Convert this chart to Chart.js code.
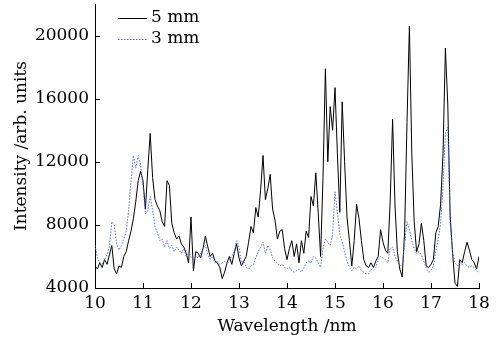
<!DOCTYPE html>
<html>
<head>
<meta charset="utf-8">
<script src="https://cdn.jsdelivr.net/npm/chart.js@4"></script>
<style>
  html, body { margin: 0; padding: 0; background: #fff; }
  #spectrum-chart { display: block; }
</style>
</head>
<body>
<canvas id="spectrum-chart" width="504" height="337"></canvas>
<script>
// wavelength grid, 10.00 .. 18.00 nm every 0.05 nm
const wavelengths = [
    10.00, 10.05, 10.10, 10.15, 10.20, 10.25, 10.30, 10.35, 10.40, 10.45,
    10.50, 10.55, 10.60, 10.65, 10.70, 10.75, 10.80, 10.85, 10.90, 10.95,
    11.00, 11.05, 11.10, 11.15, 11.20, 11.25, 11.30, 11.35, 11.40, 11.45,
    11.50, 11.55, 11.60, 11.65, 11.70, 11.75, 11.80, 11.85, 11.90, 11.95,
    12.00, 12.05, 12.10, 12.15, 12.20, 12.25, 12.30, 12.35, 12.40, 12.45,
    12.50, 12.55, 12.60, 12.65, 12.70, 12.75, 12.80, 12.85, 12.90, 12.95,
    13.00, 13.05, 13.10, 13.15, 13.20, 13.25, 13.30, 13.35, 13.40, 13.45,
    13.50, 13.55, 13.60, 13.65, 13.70, 13.75, 13.80, 13.85, 13.90, 13.95,
    14.00, 14.05, 14.10, 14.15, 14.20, 14.25, 14.30, 14.35, 14.40, 14.45,
    14.50, 14.55, 14.60, 14.65, 14.70, 14.75, 14.80, 14.85, 14.90, 14.95,
    15.00, 15.05, 15.10, 15.15, 15.20, 15.25, 15.30, 15.35, 15.40, 15.45,
    15.50, 15.55, 15.60, 15.65, 15.70, 15.75, 15.80, 15.85, 15.90, 15.95,
    16.00, 16.05, 16.10, 16.15, 16.20, 16.25, 16.30, 16.35, 16.40, 16.45,
    16.50, 16.55, 16.60, 16.65, 16.70, 16.75, 16.80, 16.85, 16.90, 16.95,
    17.00, 17.05, 17.10, 17.15, 17.20, 17.25, 17.30, 17.35, 17.40, 17.45,
    17.50, 17.55, 17.60, 17.65, 17.70, 17.75, 17.80, 17.85, 17.90, 17.95,
    18.00
];

// 5 mm
const intensity5mm = [
    5400, 5200, 5600, 5300, 5800, 5500, 6100, 6700, 5200, 4900,
    5400, 5300, 6000, 6300, 7000, 7600, 8400, 9500, 10800, 11400,
    10800, 9000, 11500, 13800, 11000, 9600, 9200, 8900, 8200, 7900,
    10800, 10500, 8100, 7500, 7100, 7300, 6800, 6600, 6200, 5600,
    8500, 5100, 6300, 6200, 5900, 6500, 7300, 6600, 6000, 6200,
    5700, 5600, 5300, 4600, 5000, 5600, 6000, 5500, 6200, 6800,
    5900, 5400, 5700, 6000, 6900, 7900, 7500, 9100, 8500, 10200,
    12400, 9600, 10300, 11200, 9000, 8300, 7100, 7600, 7700, 6500,
    5800, 6500, 7000, 6000, 6800, 5600, 7000, 6200, 7600, 7200,
    9800, 9200, 11300, 8800, 6000, 11000, 17900, 12000, 15500, 14000,
    16700, 12500, 8800, 15800, 12000, 8500, 7000, 5400, 7000, 9300,
    8400, 7000, 5800, 5400, 5300, 5600, 5300, 5700, 6000, 7700,
    6900, 6400, 6200, 9500, 14700, 9200, 6300, 5200, 4700, 7500,
    14500, 20600, 12500, 8200, 6300, 6800, 8100, 7000, 5400, 5300,
    5500, 5800, 7500, 7900, 9300, 12500, 19200, 15600, 8500, 6200,
    4300, 4100, 5800, 5600, 6300, 6900, 6400, 5800, 5600, 5200,
    6000
];

// 3 mm
const intensity3mm = [
    6700, 5900, 5600, 5500, 5800, 6100, 6600, 8200, 8000, 6800,
    6400, 6700, 7100, 7600, 8900, 10800, 12400, 11600, 12400, 11800,
    10500, 8700, 8900, 9800, 8900, 7900, 7500, 7000, 7100, 6600,
    7000, 6500, 6700, 6300, 6600, 6400, 6200, 6500, 6000, 6300,
    6000, 5800, 6000, 5900, 6200, 6500, 6700, 6100, 5800, 6000,
    5600, 5700, 5500, 5600, 5700, 5500, 5800, 6000, 6300, 7000,
    6600, 5600, 5700, 5300, 5200, 5400, 5500, 5900, 6300, 6600,
    6900, 6200, 6700, 6400, 5900, 5700, 5600, 5400, 5500, 5300,
    5200, 5300, 5100, 5000, 5100, 5200, 5000, 5300, 5600, 5700,
    5600, 6000, 5900, 5600, 5300, 6500, 7100, 6900, 6700, 7400,
    10100, 8800, 7400, 6900, 6300, 5700, 5300, 5100, 5300, 5200,
    5400, 5100, 5000, 4900, 4900, 5200, 5100, 5300, 5800, 6000,
    5900, 5800, 5600, 6500, 6600, 6000, 5700, 5400, 5500, 6800,
    8200, 7700, 7000, 6500, 6200, 6300, 6100, 5700, 5300, 5000,
    5100, 5400, 6300, 7100, 8100, 10400, 13800, 14200, 8000, 6300,
    5600, 5400, 5600, 5500, 5600, 5400, 5300, 5400, 5300, 5100,
    5000
];

const seriesNames = ['5 mm', '3 mm'];
const xTicks = [10, 11, 12, 13, 14, 15, 16, 17, 18];
const yTicks = [4000, 8000, 12000, 16000, 20000];

const FONT = { family: '"DejaVu Serif", "Liberation Serif", serif', size: 17 };

function toPoints(ys) {
    return wavelengths.map((x, i) => ({ x: x, y: ys[i] }));
}

// tick marks pointing into the plot, like the original figure
const innerTicks = {
    id: 'innerTicks',
    afterDraw(chart) {
        const ctx = chart.ctx;
        const xs = chart.scales.x, ys = chart.scales.y;
        const area = chart.chartArea;
        ctx.save();
        ctx.strokeStyle = '#000';
        ctx.lineWidth = 1;
        ctx.beginPath();
        xTicks.forEach(v => {
            const px = Math.round(xs.getPixelForValue(v)) + 0.5;
            ctx.moveTo(px, area.bottom);
            ctx.lineTo(px, area.bottom - 5);
        });
        yTicks.forEach(v => {
            const py = Math.round(ys.getPixelForValue(v)) + 0.5;
            ctx.moveTo(area.left, py);
            ctx.lineTo(area.left + 5, py);
        });
        ctx.stroke();
        ctx.restore();
    }
};

// legend sits inside the plot, top left, one entry per row
const insideLegend = {
    id: 'insideLegend',
    afterDraw(chart) {
        const ctx = chart.ctx;
        const area = chart.chartArea;
        ctx.save();
        ctx.font = FONT.size + 'px ' + FONT.family;
        ctx.textBaseline = 'middle';
        ctx.fillStyle = '#000';
        chart.data.datasets.forEach((ds, i) => {
            const y = 18 + i * 21;
            const x0 = area.left + 23;
            ctx.strokeStyle = ds.borderColor;
            ctx.lineWidth = 1;
            ctx.setLineDash(ds.borderDash || []);
            ctx.beginPath();
            ctx.moveTo(x0, y + 0.5);
            ctx.lineTo(x0 + 29, y + 0.5);
            ctx.stroke();
            ctx.setLineDash([]);
            ctx.fillText(ds.label, x0 + 33, y);
        });
        ctx.restore();
    }
};

document.addEventListener("DOMContentLoaded", mainJs);

function mainJs() {
    const ctx = document.getElementById('spectrum-chart');

    new Chart(ctx, {
        type: 'line',
        data: {
            datasets: [{
                label: seriesNames[0],
                data: toPoints(intensity5mm),
                borderColor: '#000000',
                borderWidth: 1,
                pointRadius: 0,
                tension: 0,
                order: 2
            }, {
                label: seriesNames[1],
                data: toPoints(intensity3mm),
                borderColor: '#4a6fd8',
                borderWidth: 1,
                borderDash: [1.5, 1.5],
                pointRadius: 0,
                tension: 0,
                order: 1
            }]
        },
        options: {
            responsive: false,
            animation: false,
            devicePixelRatio: 1,
            layout: { padding: { left: 11, right: 25, top: 4, bottom: 0 } },
            plugins: {
                legend: { display: false },
                tooltip: { enabled: false }
            },
            scales: {
                x: {
                    type: 'linear',
                    min: 10,
                    max: 18,
                    afterBuildTicks: (scale) => { scale.ticks = xTicks.map(v => ({ value: v })); },
                    afterFit: (scale) => {
                        scale.height = 49;
                        scale.paddingLeft = 0;
                        scale.paddingRight = 0;
                    },
                    grid: { drawOnChartArea: false, drawTicks: false },
                    border: { display: true, color: '#000', width: 1 },
                    ticks: { color: '#000', font: FONT, padding: 5, maxRotation: 0, callback: (v) => String(v) },
                    title: { display: true, text: 'Wavelength /nm', color: '#000', font: FONT, padding: 0 }
                },
                y: {
                    type: 'linear',
                    min: 4000,
                    max: 22000,
                    afterBuildTicks: (scale) => { scale.ticks = yTicks.map(v => ({ value: v })); },
                    afterFit: (scale) => {
                        scale.width = 84;
                        scale.paddingTop = 0;
                        scale.paddingBottom = 0;
                    },
                    grid: { drawOnChartArea: false, drawTicks: false },
                    border: { display: true, color: '#000', width: 1 },
                    ticks: { color: '#000', font: FONT, padding: 6, callback: (v) => String(v) },
                    title: { display: true, text: 'Intensity /arb. units', color: '#000', font: FONT, padding: 0 }
                }
            }
        },
        plugins: [innerTicks, insideLegend]
    });
}
</script>
</body>
</html>
